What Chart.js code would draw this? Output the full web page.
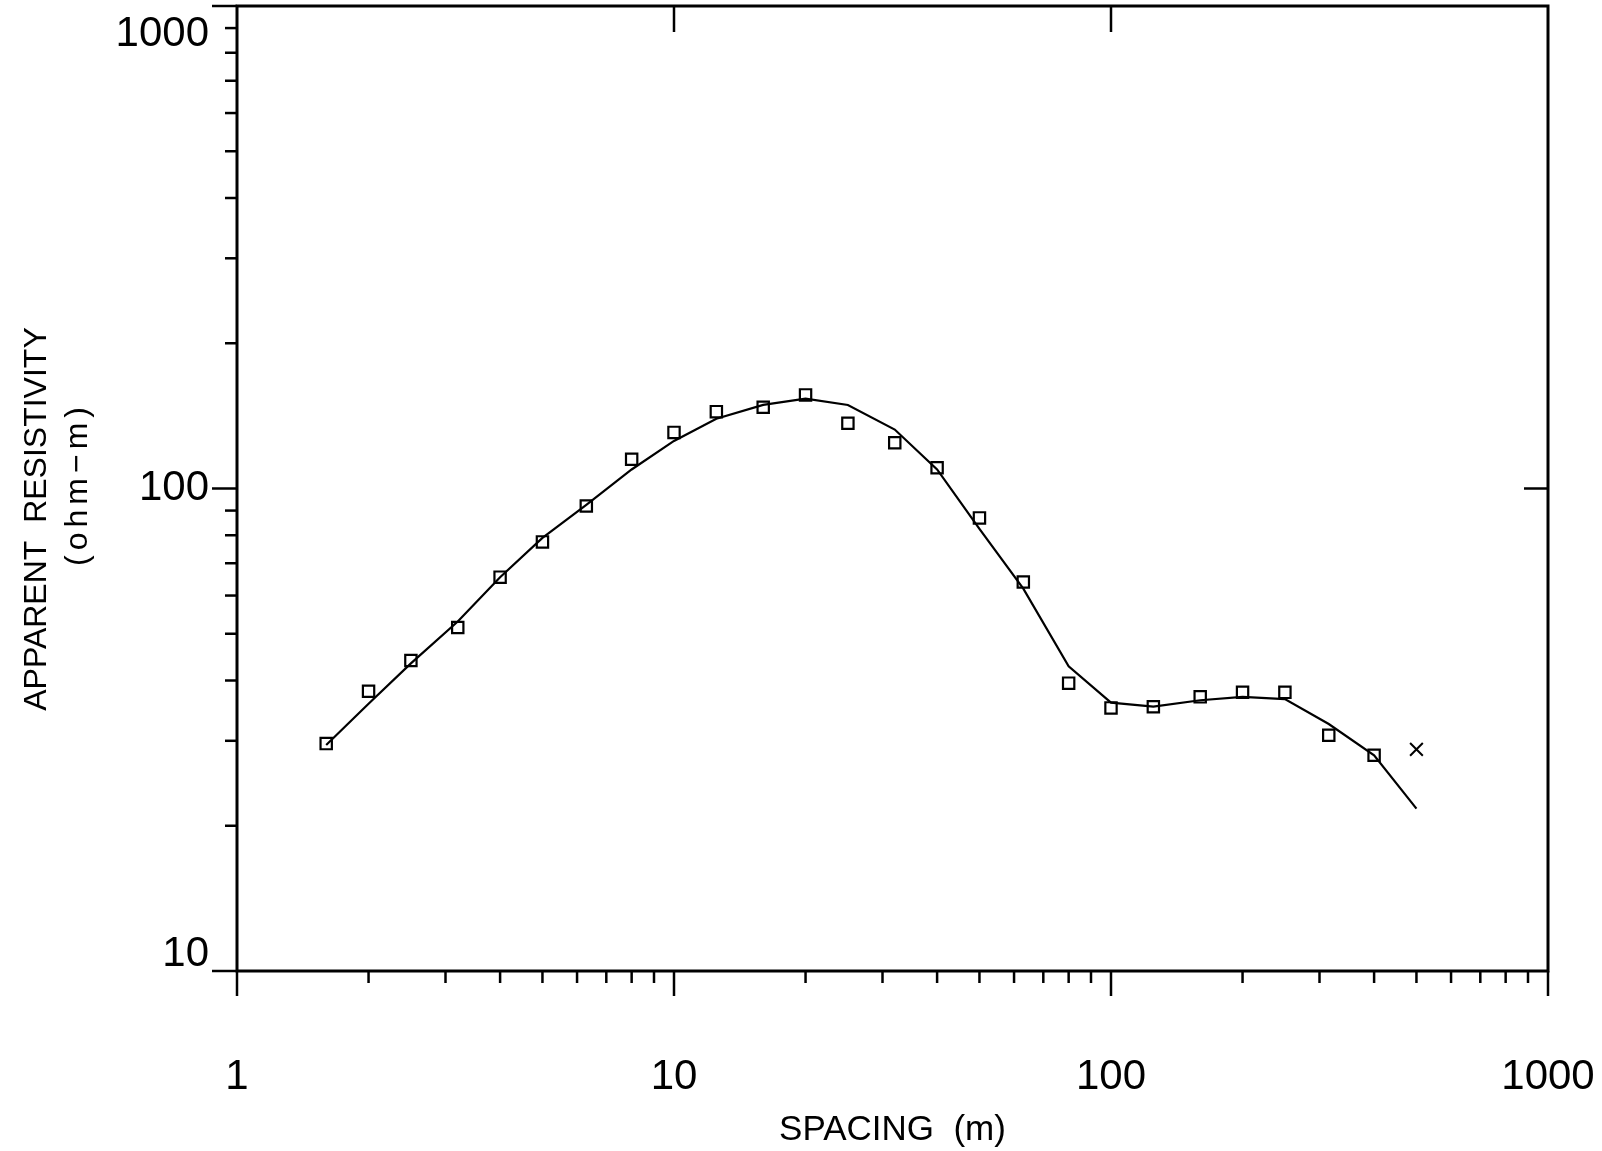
<!DOCTYPE html>
<html>
<head>
<meta charset="utf-8">
<script src="https://cdn.jsdelivr.net/npm/chart.js@4/dist/chart.umd.min.js"></script>
<style>
html,body{margin:0;padding:0;background:#fff;}
canvas{display:block;}
</style>
</head>
<body>
<canvas id="c" width="1602" height="1151"></canvas>
<script>
// ---- data ----
const spacing = [1.6, 2, 2.5, 3.2, 4, 5, 6.3, 8, 10, 12.5, 16, 20, 25, 32, 40, 50, 63, 80, 100, 125, 160, 200, 250, 315, 400];
const measuredRho = [29.6, 38.0, 44.0, 51.5, 65.5, 77.5, 92, 115, 130.7, 144.3, 147.4, 156.3, 136.5, 124.4, 110.4, 86.9, 64.0, 39.5, 35.1, 35.3, 37.0, 37.8, 37.8, 30.8, 28.0];
const modelSpacing = [1.6, 2, 2.5, 3.2, 4, 5, 6.3, 8, 10, 12.5, 16, 20, 25, 32, 40, 50, 63, 80, 100, 125, 160, 200, 250, 315, 400, 500];
const modelRho = [29.4, 35.8, 43.4, 53.0, 65.5, 79.0, 92.5, 109.5, 125.5, 139.5, 149, 153.5, 149, 132.5, 109.5, 82.5, 62, 42.8, 36.0, 35.3, 36.4, 37.0, 36.6, 32.5, 28.0, 21.7];
const rejectedSpacing = [500];
const rejectedRho = [28.8];
const xTickValues = [1, 10, 100, 1000];
const yTickValues = [10, 100, 1000];
const topTickValues = [10, 100];
const rightTickValues = [100];
const xTitle = 'SPACING  (m)';
const yTitleLines = ['APPARENT  RESISTIVITY', '(ohm\u2212m)'];

const FONT = "'Liberation Sans', Arial, sans-serif";

const toPts = (xs, ys) => xs.map((v, i) => ({x: v, y: ys[i]}));

const noPad = s => { s.paddingLeft = 0; s.paddingRight = 0; s.paddingTop = 0; s.paddingBottom = 0; };

const framePlugin = {
  id: 'frame',
  afterDraw(chart) {
    const {ctx, chartArea: a, scales} = chart;
    const x = scales.x, y = scales.y;
    ctx.save();
    ctx.strokeStyle = '#000';
    ctx.lineCap = 'butt';
    ctx.lineWidth = 3;
    ctx.strokeRect(a.left, a.top, a.right - a.left, a.bottom - a.top);
    const line = (x1, y1, x2, y2) => { ctx.beginPath(); ctx.moveTo(x1, y1); ctx.lineTo(x2, y2); ctx.stroke(); };
    ctx.lineWidth = 2.5;
    // bottom (outward) ticks
    [1, 10, 100].forEach(d => {
      for (let m = 1; m <= 9; m++) {
        const px = x.getPixelForValue(d * m);
        line(px, a.bottom, px, a.bottom + (m === 1 ? 25 : 12));
      }
    });
    { const px = x.getPixelForValue(1000); line(px, a.bottom, px, a.bottom + 25); }
    // left (outward) ticks
    [10, 100].forEach(d => {
      for (let m = 1; m <= 9; m++) {
        const py = y.getPixelForValue(d * m);
        line(a.left, py, a.left - (m === 1 ? 25 : 12), py);
      }
    });
    { const py = y.getPixelForValue(1000); line(a.left, py, a.left - 25, py); }
    // top inward ticks
    topTickValues.forEach(v => { const px = x.getPixelForValue(v); line(px, a.top, px, a.top + 26); });
    // right inward ticks
    rightTickValues.forEach(v => { const py = y.getPixelForValue(v); line(a.right, py, a.right - 24, py); });

    // y tick labels
    const shift = {10: -17, 100: 0, 1000: 28};
    ctx.fillStyle = '#000';
    ctx.font = '42px ' + FONT;
    ctx.textAlign = 'right';
    ctx.textBaseline = 'middle';
    yTickValues.forEach(v => {
      ctx.fillText(String(v), a.left - 28, y.getPixelForValue(v) + (shift[v] || 0));
    });

    // y axis title (rotated)
    ctx.font = '32px ' + FONT;
    ctx.textAlign = 'center';
    ctx.textBaseline = 'middle';
    const titlePos = [{cx: 37, cy: 519, sp: '0px'}, {cx: 78, cy: 484, sp: '5px'}];
    yTitleLines.forEach((t, i) => {
      ctx.save();
      ctx.letterSpacing = titlePos[i].sp;
      ctx.translate(titlePos[i].cx, titlePos[i].cy);
      ctx.rotate(-Math.PI / 2);
      ctx.fillText(t, 0, 0);
      ctx.restore();
    });
    ctx.restore();
  }
};

new Chart(document.getElementById('c'), {
  type: 'scatter',
  data: {
    datasets: [
      {
        label: 'model',
        data: toPts(modelSpacing, modelRho),
        showLine: true,
        borderColor: '#000',
        borderWidth: 2.2,
        pointRadius: 0,
        tension: 0,
        fill: false,
        order: 3
      },
      {
        label: 'measured',
        data: toPts(spacing, measuredRho),
        showLine: false,
        pointStyle: 'rect',
        pointRadius: 8,
        borderColor: '#000',
        borderWidth: 2.2,
        backgroundColor: 'rgba(0,0,0,0)',
        order: 2
      },
      {
        label: 'rejected',
        data: toPts(rejectedSpacing, rejectedRho),
        showLine: false,
        pointStyle: 'crossRot',
        pointRadius: 9,
        borderColor: '#000',
        borderWidth: 2,
        order: 1
      }
    ]
  },
  options: {
    responsive: false,
    animation: false,
    devicePixelRatio: 1,
    events: [],
    layout: {autoPadding: false, padding: {top: 6, right: 54, left: 0, bottom: 0}},
    plugins: {legend: {display: false}, tooltip: {enabled: false}},
    scales: {
      x: {
        type: 'logarithmic',
        position: 'bottom',
        min: 1,
        max: 1000,
        grid: {display: false},
        border: {display: false},
        afterBuildTicks: s => { s.ticks = xTickValues.map(v => ({value: v})); },
        afterFit: s => { s.height = 180; noPad(s); },
        ticks: {
          autoSkip: false,
          maxRotation: 0,
          minRotation: 0,
          padding: 73,
          color: '#000',
          font: {family: FONT, size: 42},
          callback: v => String(v)
        },
        title: {
          display: true,
          text: xTitle,
          color: '#000',
          font: {family: FONT, size: 35},
          padding: {top: 0, bottom: 0}
        }
      },
      y: {
        type: 'logarithmic',
        position: 'left',
        min: 10,
        max: 1000,
        grid: {display: false},
        border: {display: false},
        afterFit: s => { s.width = 237; noPad(s); },
        ticks: {display: false}
      }
    }
  },
  plugins: [framePlugin]
});
</script>
</body>
</html>
